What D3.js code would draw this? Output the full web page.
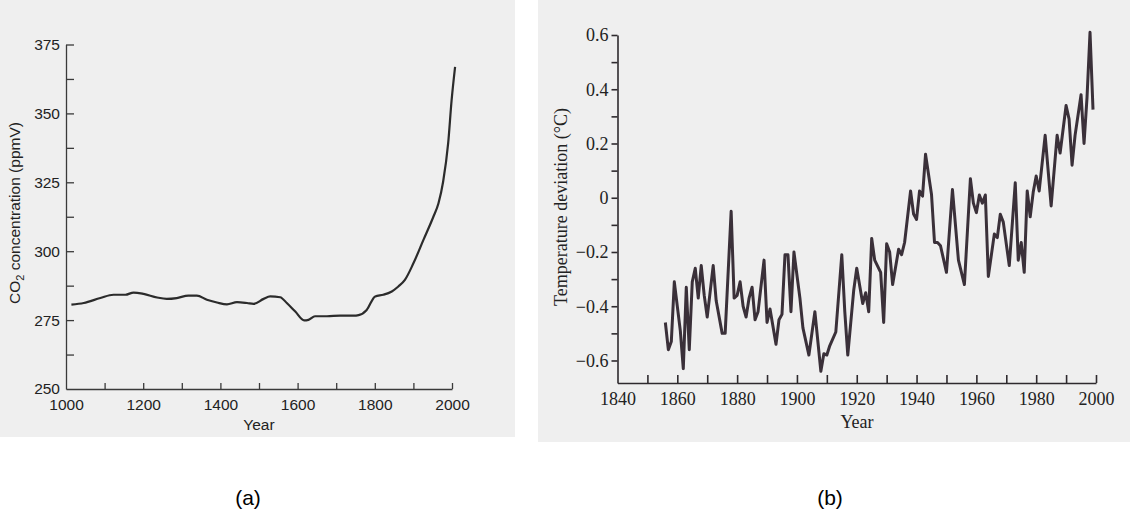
<!DOCTYPE html>
<html>
<head>
<meta charset="utf-8">
<script src="https://cdn.jsdelivr.net/npm/d3@7"></script>
<style>
    html, body { margin: 0; padding: 0; background: #fff; }
    svg { display: block; }
</style>
</head>
<body>
<div id="chart"></div>
<script>
// (a) CO2 concentration
const co2Years = [1014, 1046, 1089, 1123, 1154, 1175, 1201, 1236, 1261, 1287, 1317, 1339,
    1365, 1391, 1417, 1443, 1469, 1486, 1512, 1529, 1555, 1572, 1594, 1617, 1628, 1645,
    1676, 1710, 1745, 1758, 1779, 1801, 1822, 1844, 1861, 1878, 1900, 1926, 1952, 1965,
    1977, 1990, 1999, 2008];
const co2Values = [280.6, 281.2, 283.0, 284.2, 284.2, 285.0, 284.5, 283.2, 282.7, 283.0, 283.9, 283.9,
    282.4, 281.4, 280.7, 281.5, 281.2, 280.9, 282.7, 283.6, 283.3, 281.2, 278.1, 274.9, 275.1, 276.4,
    276.4, 276.6, 276.6, 276.8, 278.7, 283.6, 284.2, 285.4, 287.2, 289.6, 295.6, 304.1, 312.6, 317.4,
    325.2, 339.1, 354.8, 366.9];
const co2TickLabels = [250, 275, 300, 325, 350, 375];
const co2MinorTicks = [262.5, 287.5, 312.5, 337.5, 362.5];
const co2YearLabels = [1000, 1200, 1400, 1600, 1800, 2000];
const co2YearTicks = [1100, 1200, 1300, 1400, 1500, 1600, 1700, 1800, 1900, 2000];

// (b) temperature deviation
const tempYears = [1856, 1857, 1858, 1859, 1861, 1862, 1863, 1864, 1865, 1866, 1867, 1868, 1869, 1870,
    1872, 1873, 1875, 1876, 1878, 1879, 1880, 1881, 1882, 1883, 1884, 1885, 1886, 1887, 1889, 1890,
    1891, 1893, 1894, 1895, 1896, 1897, 1898, 1899, 1901, 1902, 1904, 1906, 1908, 1909, 1910, 1911,
    1913, 1915, 1916, 1917, 1919, 1920, 1922, 1923, 1924, 1925, 1926, 1928, 1929, 1930, 1931, 1932,
    1934, 1935, 1936, 1938, 1939, 1940, 1941, 1942, 1943, 1945, 1946, 1947, 1948, 1950, 1952, 1954,
    1956, 1958, 1959, 1960, 1961, 1962, 1963, 1964, 1966, 1967, 1968, 1969, 1971, 1973, 1974, 1975,
    1976, 1977, 1978, 1979, 1980, 1981, 1983, 1985, 1987, 1988, 1990, 1991, 1992, 1993, 1995, 1996,
    1997, 1998, 1999];
const tempValues = [-0.46, -0.56, -0.53, -0.31, -0.49, -0.63, -0.33, -0.56, -0.31, -0.26, -0.37, -0.25, -0.36, -0.44,
    -0.25, -0.38, -0.50, -0.50, -0.05, -0.37, -0.36, -0.31, -0.40, -0.44, -0.37, -0.33, -0.45, -0.42, -0.23, -0.46,
    -0.41, -0.54, -0.45, -0.43, -0.21, -0.21, -0.42, -0.20, -0.37, -0.48, -0.58, -0.42, -0.64, -0.575, -0.58, -0.545,
    -0.495, -0.21, -0.42, -0.58, -0.34, -0.26, -0.39, -0.35, -0.42, -0.15, -0.23, -0.275, -0.46, -0.17, -0.20, -0.32,
    -0.19, -0.21, -0.165, 0.025, -0.06, -0.08, 0.025, 0.006, 0.16, 0.012, -0.165, -0.165, -0.177, -0.275, 0.03, -0.23,
    -0.32, 0.07, -0.02, -0.055, 0.01, -0.02, 0.01, -0.29, -0.134, -0.147, -0.061, -0.09, -0.25, 0.055, -0.23, -0.165,
    -0.275, 0.025, -0.07, 0.02, 0.08, 0.025, 0.23, -0.03, 0.23, 0.165, 0.34, 0.29, 0.12, 0.23, 0.38, 0.20,
    0.37, 0.61, 0.325];
const tempTickLabels = [-0.6, -0.4, -0.2, 0, 0.2, 0.4, 0.6];
const tempMinorTicks = [-0.5, -0.3, -0.1, 0.1, 0.3, 0.5];
const tempYearLabels = [1840, 1860, 1880, 1900, 1920, 1940, 1960, 1980, 2000];
const tempYearTicks = [1850, 1860, 1870, 1880, 1890, 1900, 1910, 1920, 1930, 1940,
    1950, 1960, 1970, 1980, 1990, 2000];

const W = 1130, H = 518;

const svg = d3.select('#chart')
    .append('svg')
    .attr('width', W)
    .attr('height', H);

// scanned page tint behind each panel
svg.append('rect').attr('x', 0).attr('y', 0).attr('width', 515).attr('height', 437).attr('fill', '#efefef');
svg.append('rect').attr('x', 538).attr('y', 0).attr('width', W - 538).attr('height', 442).attr('fill', '#efefef');

function styleAxis(g, color, width) {
    g.select('.domain').attr('stroke', color).attr('stroke-width', width);
    g.selectAll('.tick line').attr('stroke', color).attr('stroke-width', width);
}

// ---------- (a) CO2 ----------
function drawCO2() {
    const x = d3.scaleLinear().domain([1000, 2000]).range([66, 452]);
    const y = d3.scaleLinear().domain([250, 375]).range([389, 44.5]);
    const font = '"Liberation Sans", Arial, sans-serif';
    const ink = '#3a3a3a';

    const g = svg.append('g');

    // y axis: inward ticks every 12.5
    const yAxis = g.append('g')
        .attr('transform', `translate(${x(1000)},0)`)
        .call(d3.axisLeft(y)
            .tickValues(co2TickLabels.concat(co2MinorTicks))
            .tickSize(-8)
            .tickSizeOuter(0)
            .tickPadding(6)
            .tickFormat(d => co2TickLabels.includes(d) ? d : ''));
    styleAxis(yAxis, ink, 1.3);
    yAxis.selectAll('.tick').filter(d => d === 250).select('line').remove();
    yAxis.selectAll('text')
        .style('font-family', font).style('font-size', '15.5px').attr('fill', '#222');

    // x axis: upward ticks every 100, labels every 200
    const xAxis = g.append('g')
        .attr('transform', `translate(0,${y(250)})`)
        .call(d3.axisBottom(x)
            .tickValues(co2YearTicks)
            .tickSize(-6)
            .tickSizeOuter(0)
            .tickFormat(''));
    styleAxis(xAxis, ink, 1.3);

    const xLabels = g.append('g')
        .attr('transform', `translate(0,${y(250)})`)
        .call(d3.axisBottom(x)
            .tickValues(co2YearLabels)
            .tickSize(0)
            .tickPadding(10)
            .tickFormat(d3.format('d')));
    xLabels.select('.domain').remove();
    xLabels.selectAll('text')
        .style('font-family', font).style('font-size', '15.5px').attr('fill', '#222');

    // CO2 line
    const line = d3.line()
        .x(d => x(d[0]))
        .y(d => y(d[1]))
        .curve(d3.curveMonotoneX);

    g.append('path')
        .datum(co2Years.map((yr, i) => [yr, co2Values[i]]))
        .attr('d', line)
        .attr('fill', 'none')
        .attr('stroke', '#2b2b2b')
        .attr('stroke-width', 2.2)
        .attr('stroke-linejoin', 'round');

    // axis titles
    g.append('text')
        .attr('x', 259)
        .attr('y', 430)
        .attr('text-anchor', 'middle')
        .style('font-family', font)
        .style('font-size', '15.5px')
        .attr('fill', '#222')
        .text('Year');

    const yTitle = g.append('text')
        .attr('transform', 'translate(20,213) rotate(-90)')
        .attr('text-anchor', 'middle')
        .style('font-family', font)
        .style('font-size', '15.5px')
        .attr('fill', '#222');
    yTitle.append('tspan').text('CO');
    yTitle.append('tspan').attr('dy', 4).style('font-size', '11px').text('2');
    yTitle.append('tspan').attr('dy', -4).text(' concentration (ppmV)');

    svg.append('text')
        .attr('x', 248)
        .attr('y', 505)
        .attr('text-anchor', 'middle')
        .style('font-family', font)
        .style('font-size', '21px')
        .attr('fill', '#000')
        .text('(a)');
}

// ---------- (b) temperature ----------
function drawTemp() {
    const x = d3.scaleLinear().domain([1840, 2000]).range([617.5, 1096]);
    const y = d3.scaleLinear().domain([-0.683, 0.6]).range([383, 35]);
    const font = '"Liberation Serif", "Times New Roman", serif';
    const ink = '#2e2a2e';

    const g = svg.append('g');

    // y axis: outward ticks every 0.1, labels every 0.2
    const yAxis = g.append('g')
        .attr('transform', `translate(${x(1840)},0)`)
        .call(d3.axisLeft(y)
            .tickValues(tempTickLabels.concat(tempMinorTicks))
            .tickSize(6)
            .tickSizeOuter(0)
            .tickPadding(3)
            .tickFormat(d => tempTickLabels.includes(d) ? (d === 0 ? '0' : d3.format('.1f')(d)) : ''));
    styleAxis(yAxis, ink, 1.6);
    yAxis.selectAll('text')
        .style('font-family', font).style('font-size', '18px').attr('fill', '#222');

    // x axis: upward ticks every 10 years
    const xAxis = g.append('g')
        .attr('transform', `translate(0,${y.range()[0]})`)
        .call(d3.axisBottom(x)
            .tickValues(tempYearTicks)
            .tickSize(-8)
            .tickSizeOuter(0)
            .tickFormat(''));
    styleAxis(xAxis, ink, 1.6);

    const xLabels = g.append('g')
        .attr('transform', `translate(0,${y.range()[0]})`)
        .call(d3.axisBottom(x)
            .tickValues(tempYearLabels)
            .tickSize(0)
            .tickPadding(9)
            .tickFormat(d3.format('d')));
    xLabels.select('.domain').remove();
    xLabels.selectAll('text')
        .style('font-family', font).style('font-size', '18px').attr('fill', '#222');

    // temperature line
    const line = d3.line()
        .x(d => x(d[0]))
        .y(d => y(d[1]));

    g.append('path')
        .datum(tempYears.map((yr, i) => [yr, tempValues[i]]))
        .attr('d', line)
        .attr('fill', 'none')
        .attr('stroke', '#3a3039')
        .attr('stroke-width', 3)
        .attr('stroke-linejoin', 'round');

    // axis titles
    g.append('text')
        .attr('x', 857)
        .attr('y', 428)
        .attr('text-anchor', 'middle')
        .style('font-family', font)
        .style('font-size', '18px')
        .attr('fill', '#222')
        .text('Year');

    g.append('text')
        .attr('transform', 'translate(567,207) rotate(-90)')
        .attr('text-anchor', 'middle')
        .style('font-family', font)
        .style('font-size', '18px')
        .attr('fill', '#222')
        .text('Temperature deviation (°C)');

    svg.append('text')
        .attr('x', 830)
        .attr('y', 505)
        .attr('text-anchor', 'middle')
        .style('font-family', '"Liberation Sans", Arial, sans-serif')
        .style('font-size', '21px')
        .attr('fill', '#000')
        .text('(b)');
}

drawCO2();
drawTemp();
</script>
</body>
</html>
